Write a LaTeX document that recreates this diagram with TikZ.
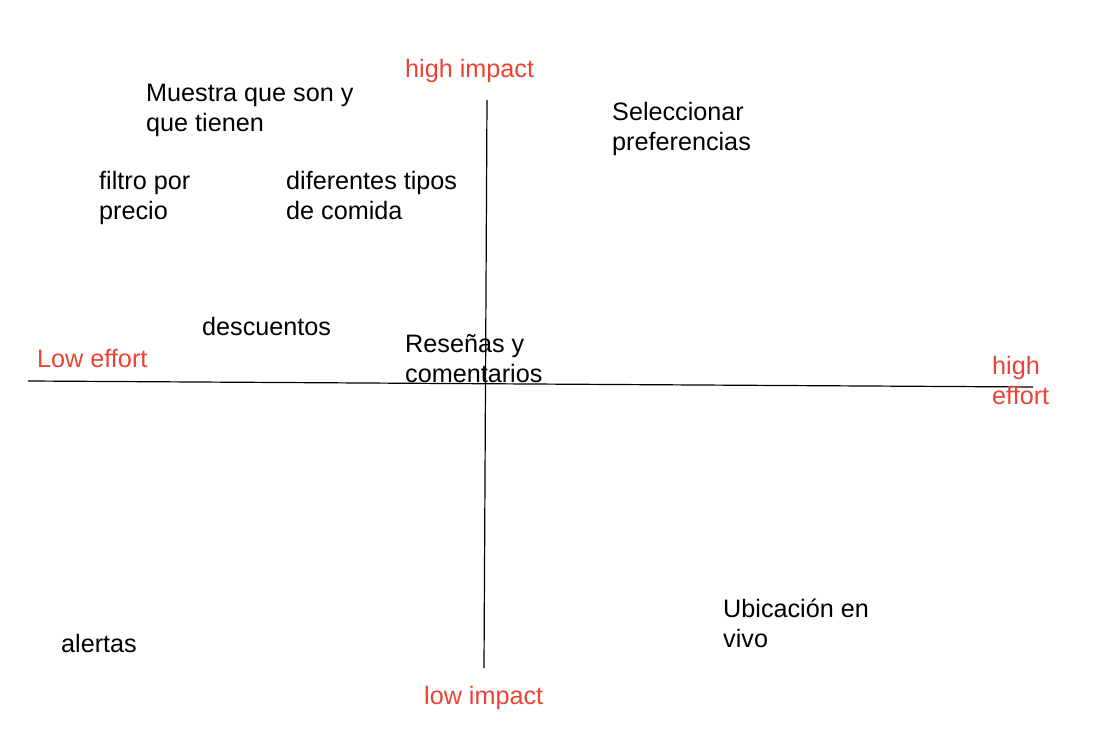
\documentclass[tikz,border=0pt]{standalone}
\usepackage{fontspec}
\setmainfont{Liberation Sans}
\definecolor{axisred}{RGB}{234,67,53}
\tikzset{
  idea/.style={anchor=base west, inner sep=0pt, align=left, font=\fontsize{25.2}{30}\selectfont},
  axislabel/.style={idea, text=axisred},
  axisline/.style={line width=1.2pt, black}
}
\begin{document}
\begin{tikzpicture}[x=1pt, y=-1pt]
  \useasboundingbox (0,0) rectangle (1120,738);
  % Axes
  \coordinate (effortL) at (28,381);
  \coordinate (effortR) at (1033,387);
  \coordinate (impactT) at (487,100);
  \coordinate (impactB) at (484,668);
  \draw[axisline] (effortL) -- (effortR);
  \draw[axisline] (impactT) -- (impactB);
  % Axis labels (two-line nodes sit on their last baseline)
  \node[axislabel] (hiImpact) at (405,78) {high impact};
  \node[axislabel] (loImpact) at (424,704) {low impact};
  \node[axislabel] (loEffort) at (37,367) {Low effort};
  \node[axislabel] (hiEffort) at (992,404) {high\\effort};
  % Ideas
  \node[idea] (muestra) at (146,132) {Muestra que son y\\que tienen};
  \node[idea] (seleccionar) at (612,151) {Seleccionar\\preferencias};
  \node[idea] (filtro) at (99,220) {filtro por\\precio};
  \node[idea] (tipos) at (286,220) {diferentes tipos\\de comida};
  \node[idea] (descuentos) at (202,336) {descuentos};
  \node[idea] (resenas) at (405,382) {Reseñas y\\comentarios};
  \node[idea] (ubicacion) at (723,647) {Ubicación en\\vivo};
  \node[idea] (alertas) at (61,652) {alertas};
\end{tikzpicture}
\end{document}
